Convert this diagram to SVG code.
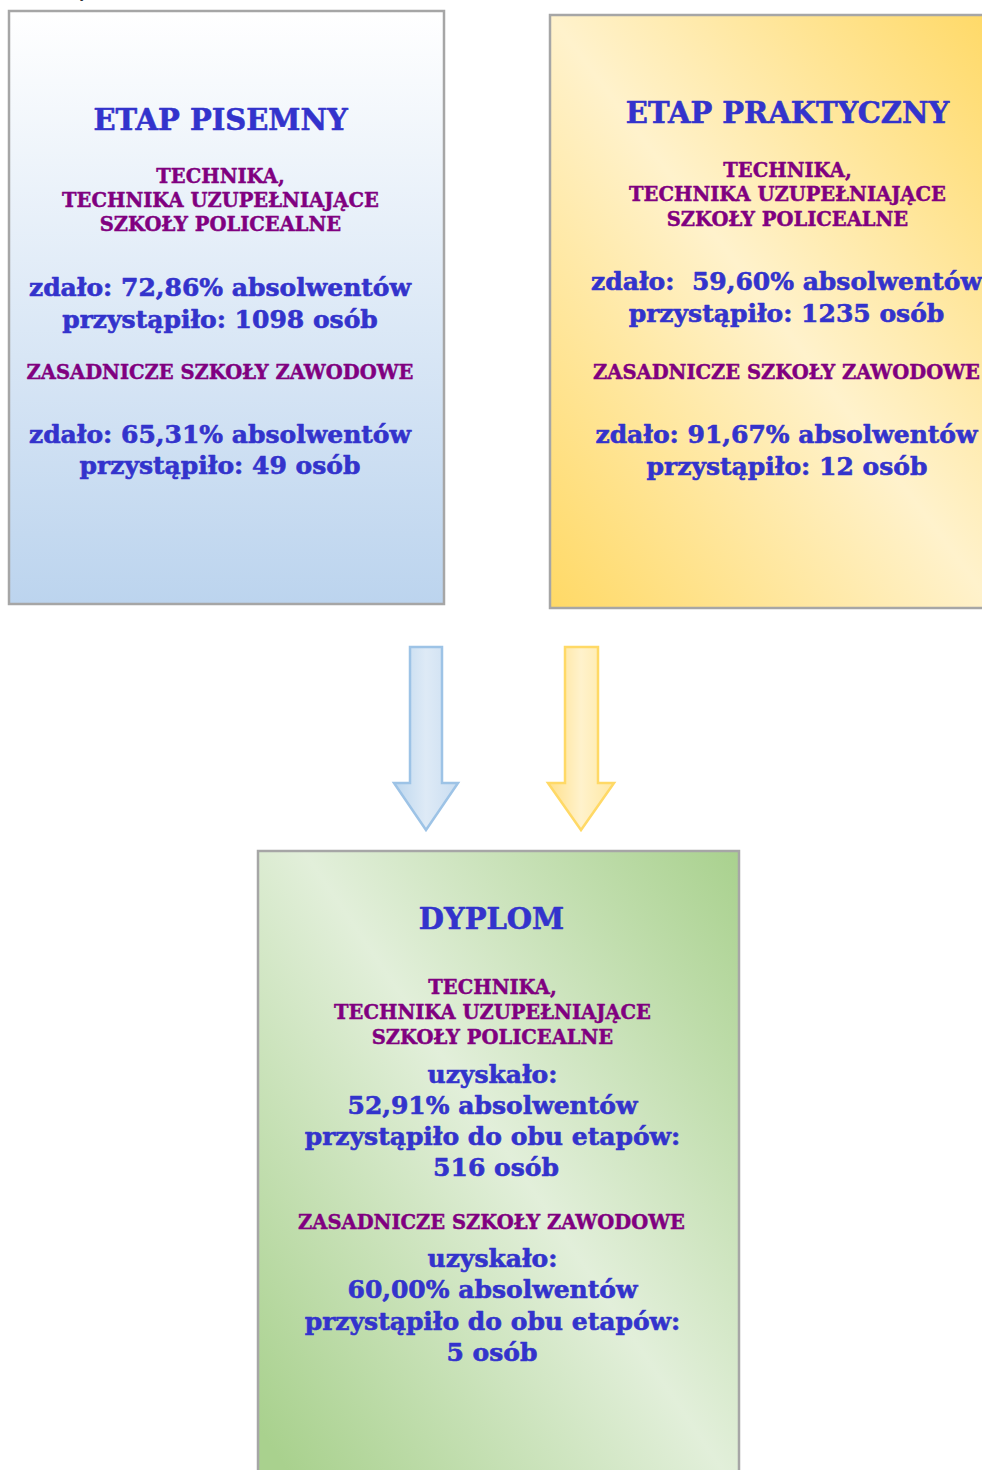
<svg xmlns="http://www.w3.org/2000/svg" width="982" height="1470" viewBox="0 0 982 1470">
<style>
.box{stroke:#A6A6A6;stroke-width:2.5}
.t{font-family:"DejaVu Serif","Liberation Serif",serif;font-weight:bold;text-anchor:middle;stroke-width:0.6px;stroke-linejoin:round}
.title{font-size:29px;fill:#3333CC;stroke:#3333CC}
.sub{font-size:19.5px;fill:#800080;stroke:#800080;stroke-width:0.45px}
.body{font-size:25px;fill:#3333CC;stroke:#3333CC}
</style>
<defs>
<linearGradient id="gBlue" x1="0" y1="0" x2="0" y2="1">
<stop offset="0" stop-color="#FFFFFF"/>
<stop offset="1" stop-color="#BCD4EE"/>
</linearGradient>
<linearGradient id="gYellow" x1="1" y1="0" x2="0" y2="1">
<stop offset="0" stop-color="#FFD966"/>
<stop offset="0.5" stop-color="#FFF2CC"/>
<stop offset="1" stop-color="#FFD966"/>
</linearGradient>
<linearGradient id="gGreen" x1="1" y1="0" x2="0" y2="0.9">
<stop offset="0" stop-color="#A9D18E"/>
<stop offset="0.5" stop-color="#E2EFDA"/>
<stop offset="1" stop-color="#A9D18E"/>
</linearGradient>
<linearGradient id="aBlue" x1="0" y1="0" x2="1" y2="0">
<stop offset="0" stop-color="#BDD7EE"/>
<stop offset="0.5" stop-color="#DEEAF6"/>
<stop offset="1" stop-color="#C9DDF1"/>
</linearGradient>
<linearGradient id="aYellow" x1="0" y1="0" x2="1" y2="0">
<stop offset="0" stop-color="#FFE08A"/>
<stop offset="0.5" stop-color="#FFF2CC"/>
<stop offset="1" stop-color="#FFE8A3"/>
</linearGradient>
</defs>

<text x="80" y="-3" style="font-family:'Liberation Serif',serif;font-size:16px;fill:#000">y</text>

<g id="etap-pisemny">
<rect class="box" x="9" y="11" width="435" height="593" fill="url(#gBlue)"/>
<text class="t title" x="220.5" y="130">ETAP PISEMNY</text>
<text class="t sub" x="220.5" y="183">TECHNIKA,</text>
<text class="t sub" x="220.5" y="207">TECHNIKA UZUPEŁNIAJĄCE</text>
<text class="t sub" x="220.5" y="231">SZKOŁY POLICEALNE</text>
<text class="t body" x="220" y="296">zdało: 72,86% absolwentów</text>
<text class="t body" x="220" y="328">przystąpiło: 1098 osób</text>
<text class="t sub" x="220" y="379">ZASADNICZE SZKOŁY ZAWODOWE</text>
<text class="t body" x="220" y="443">zdało: 65,31% absolwentów</text>
<text class="t body" x="220" y="474">przystąpiło: 49 osób</text>
</g>

<g id="etap-praktyczny">
<rect class="box" x="550" y="15" width="445" height="593" fill="url(#gYellow)"/>
<text class="t title" x="787.5" y="123">ETAP PRAKTYCZNY</text>
<text class="t sub" x="787.5" y="177">TECHNIKA,</text>
<text class="t sub" x="787.5" y="201">TECHNIKA UZUPEŁNIAJĄCE</text>
<text class="t sub" x="787.5" y="226">SZKOŁY POLICEALNE</text>
<text class="t body" x="786.5" y="290" xml:space="preserve">zdało:  59,60% absolwentów</text>
<text class="t body" x="786.5" y="322">przystąpiło: 1235 osób</text>
<text class="t sub" x="786.5" y="379">ZASADNICZE SZKOŁY ZAWODOWE</text>
<text class="t body" x="786.5" y="443">zdało: 91,67% absolwentów</text>
<text class="t body" x="787" y="475">przystąpiło: 12 osób</text>
</g>

<g id="connectors">
<path d="M410,647 L442,647 L442,783 L458,783 L426,830 L394,783 L410,783 Z" fill="url(#aBlue)" stroke="#9DC3E6" stroke-width="2.5" stroke-linejoin="miter"/>
<path d="M565,647 L598,647 L598,783 L614,783 L581,830 L548,783 L565,783 Z" fill="url(#aYellow)" stroke="#FFD966" stroke-width="2.5" stroke-linejoin="miter"/>
</g>

<g id="dyplom">
<rect class="box" x="258" y="851" width="481" height="640" fill="url(#gGreen)"/>
<text class="t title" x="491.5" y="929">DYPLOM</text>
<text class="t sub" x="492.5" y="994">TECHNIKA,</text>
<text class="t sub" x="492.5" y="1019">TECHNIKA UZUPEŁNIAJĄCE</text>
<text class="t sub" x="492.5" y="1044">SZKOŁY POLICEALNE</text>
<text class="t body" x="492.5" y="1083">uzyskało:</text>
<text class="t body" x="492.5" y="1114">52,91% absolwentów</text>
<text class="t body" x="492.5" y="1145">przystąpiło do obu etapów:</text>
<text class="t body" x="496" y="1176">516 osób</text>
<text class="t sub" x="491.5" y="1229">ZASADNICZE SZKOŁY ZAWODOWE</text>
<text class="t body" x="492.5" y="1267">uzyskało:</text>
<text class="t body" x="492.5" y="1298">60,00% absolwentów</text>
<text class="t body" x="492.5" y="1330">przystąpiło do obu etapów:</text>
<text class="t body" x="492" y="1361">5 osób</text>
</g>
</svg>
